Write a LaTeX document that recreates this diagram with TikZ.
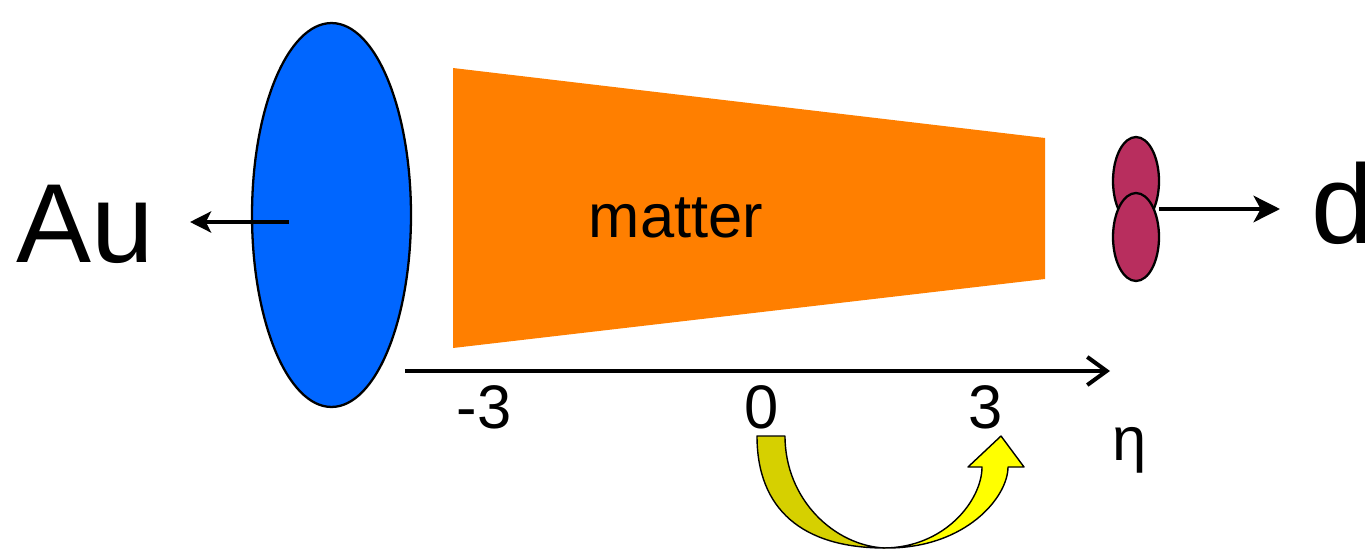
\documentclass[tikz,border=0pt]{standalone}
\usepackage{fontspec}
\setmainfont{Liberation Sans}
\usetikzlibrary{arrows.meta}
\definecolor{aublue}{RGB}{0,102,255}
\definecolor{matterorange}{RGB}{255,127,0}
\definecolor{dmag}{RGB}{184,46,94}
\definecolor{ydark}{RGB}{214,208,0}
\definecolor{ybright}{RGB}{255,255,0}
\tikzset{
  big/.style={inner sep=0pt, anchor=base, font=\fontsize{64}{70}\selectfont},
  mid/.style={inner sep=0pt, anchor=base, font=\fontsize{35}{40}\selectfont},
  thinarrow/.style={line width=2.2pt},
  outline/.style={draw=black, line width=1.3pt},
  yband/.style={draw=black, line width=0.8pt, line join=round}
}
\begin{document}
\begin{tikzpicture}[x=0.02cm,y=-0.02cm]
\useasboundingbox (0,0) rectangle (1365,548);
% matter cone
\fill[matterorange] (453,68) -- (1045,138) -- (1045,279) -- (453,348) -- cycle;
\node[mid] (matter) at (676,237) {matter};
% Au nucleus
\draw[outline, fill=aublue] (331.5,215) ellipse [x radius=1.59cm, y radius=3.84cm];
\coordinate (auS) at (289,222);
\coordinate (auE) at (190,222);
\draw[thinarrow, -{Stealth[length=12pt,width=12pt,inset=3pt]}] (auS) -- (auE);
\node[big] (au) at (85,262) {Au};
% deuteron
\draw[outline, fill=dmag] (1136,181) ellipse [x radius=0.46cm, y radius=0.88cm];
\draw[outline, fill=dmag] (1136,237) ellipse [x radius=0.46cm, y radius=0.88cm];
\coordinate (dS) at (1159,209);
\coordinate (dE) at (1280,209);
\draw[line width=2.5pt, -{Stealth[length=15pt,width=15pt,inset=4pt]}] (dS) -- (dE);
\node[big, anchor=base west] (d) at (1311,243) {d};
% eta axis
\coordinate (axS) at (405,371);
\coordinate (axE) at (1110,371);
\draw[line width=2.3pt, -{Straight Barb[length=11pt,width=16pt,line width=2.3pt]}] (axS) -- (axE);
\node[mid] (m3) at (484,428) {-3};
\node[mid] (z0) at (762,428) {0};
\node[mid] (p3) at (986,428) {3};
\node[mid] (eta) at (1130,460) {η};
% curved yellow arrow
\filldraw[yband, fill=ydark] (757,436) -- (785,436)
  .. controls (785,500) and (835,546) .. (885,548)
  .. controls (802,548) and (757,509) .. (757,436) -- cycle;
\filldraw[yband, fill=ybright] (883,548)
  .. controls (945,548) and (982,500) .. (982,467)
  -- (968,467) -- (1001,436) -- (1024,467) -- (1008,467)
  .. controls (1008,497) and (966,548) .. (887,548) -- cycle;
\end{tikzpicture}
\end{document}
